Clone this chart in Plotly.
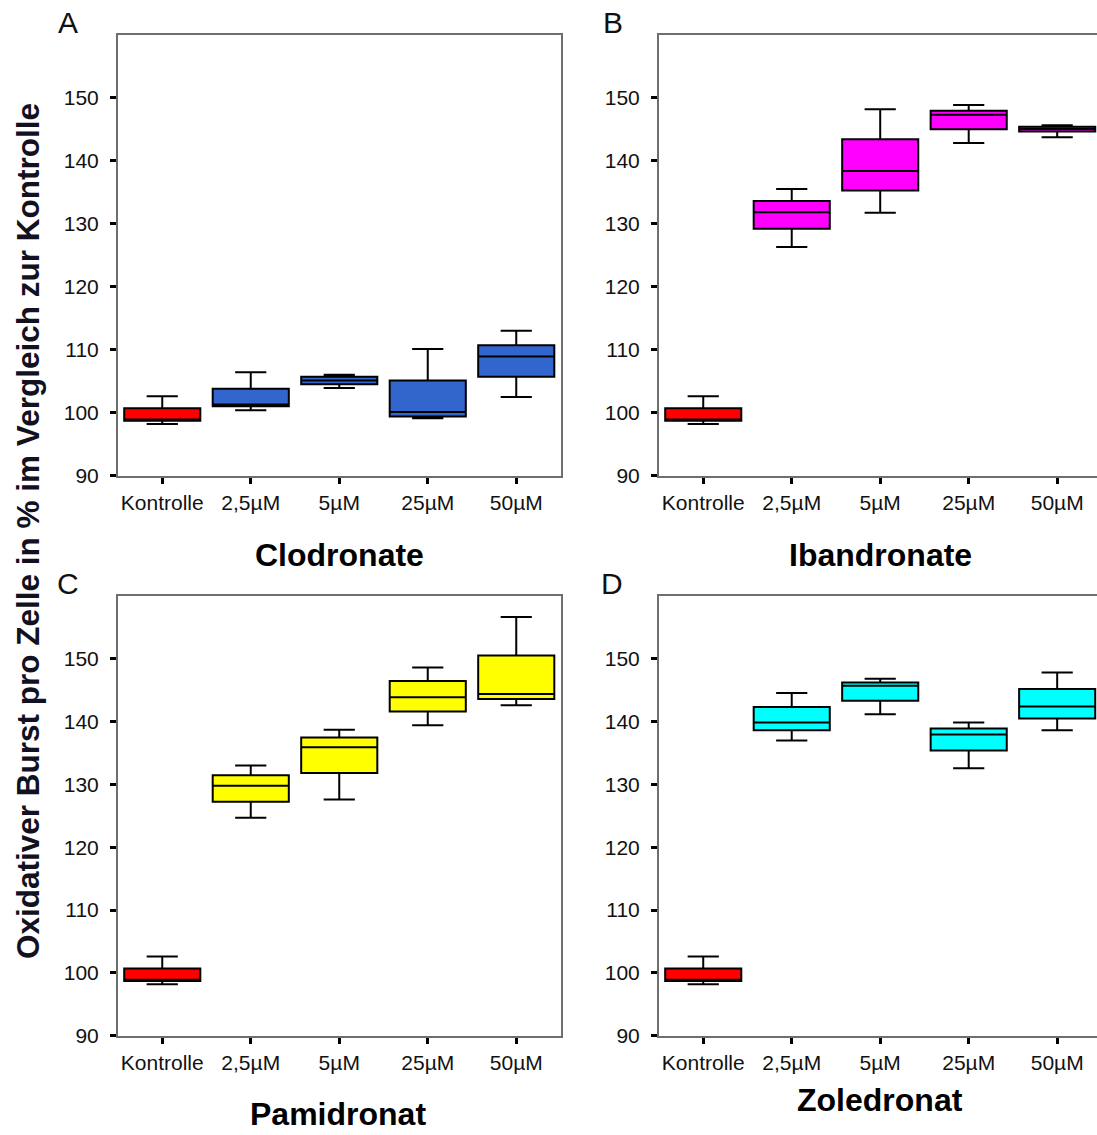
import plotly.graph_objects as go

categories = ["Kontrolle", "2,5µM", "5µM", "25µM", "50µM"]
panel_names = ["Clodronate", "Ibandronate", "Pamidronat", "Zoledronat"]
panel_letters = ["A", "B", "C", "D"]
y_ticks = [90, 100, 110, 120, 130, 140, 150]

# summary statistics per panel: Kontrolle, 2.5, 5, 25, 50 µM
clodronate_lower = [98.2, 100.4, 103.9, 99.1, 102.5]
clodronate_q1 = [98.7, 101.0, 104.5, 99.4, 105.7]
clodronate_median = [98.9, 101.3, 105.1, 100.1, 108.9]
clodronate_q3 = [100.7, 103.8, 105.7, 105.1, 110.7]
clodronate_upper = [102.6, 106.4, 106.0, 110.1, 113.0]

ibandronate_lower = [98.2, 126.3, 131.7, 142.8, 143.7]
ibandronate_q1 = [98.7, 129.2, 135.25, 144.95, 144.6]
ibandronate_median = [98.9, 131.8, 138.35, 147.25, 145.0]
ibandronate_q3 = [100.7, 133.6, 143.4, 147.9, 145.35]
ibandronate_upper = [102.6, 135.5, 148.15, 148.8, 145.6]

pamidronat_lower = [98.2, 124.7, 127.6, 139.4, 142.6]
pamidronat_q1 = [98.7, 127.25, 131.8, 141.6, 143.6]
pamidronat_median = [98.9, 129.8, 135.9, 143.85, 144.4]
pamidronat_q3 = [100.7, 131.45, 137.45, 146.45, 150.5]
pamidronat_upper = [102.6, 133.0, 138.7, 148.6, 156.65]

zoledronat_lower = [98.2, 137.0, 141.15, 132.55, 138.6]
zoledronat_q1 = [98.7, 138.6, 143.3, 135.4, 140.5]
zoledronat_median = [98.9, 139.85, 145.7, 137.95, 142.4]
zoledronat_q3 = [100.7, 142.3, 146.2, 138.9, 145.2]
zoledronat_upper = [102.6, 144.55, 146.8, 139.85, 147.8]

control_color = "#FF0000"
panel_colors = ["#3366CC", "#FF00FF", "#FFFF00", "#00FFFF"]

panels = [
    (clodronate_lower, clodronate_q1, clodronate_median, clodronate_q3, clodronate_upper),
    (ibandronate_lower, ibandronate_q1, ibandronate_median, ibandronate_q3, ibandronate_upper),
    (pamidronat_lower, pamidronat_q1, pamidronat_median, pamidronat_q3, pamidronat_upper),
    (zoledronat_lower, zoledronat_q1, zoledronat_median, zoledronat_q3, zoledronat_upper),
]

W, H = 1097, 1135
FONT = "Liberation Sans, Arial, sans-serif"

# plot areas in pixels (left, right, top, bottom)
areas = [
    (118, 560.5, 34.5, 475.7),
    (659, 1097, 34.5, 475.7),
    (118, 560.5, 595.9, 1035.7),
    (659, 1097, 595.9, 1035.7),
]
x_ranges = [[-0.5, 4.5], [-0.5, 4.45], [-0.5, 4.5], [-0.5, 4.45]]
title_pos = [(339, 555), (880, 555), (338, 1114), (880, 1100)]
letter_pos = [(68, 23), (613, 23), (68, 583), (612, 583)]

fig = go.Figure()
for p, (lo, q1, med, q3, up) in enumerate(panels):
    ax = "" if p == 0 else str(p + 1)
    for i, cat in enumerate(categories):
        col = control_color if i == 0 else panel_colors[p]
        fig.add_trace(go.Box(
            x=[cat], lowerfence=[lo[i]], q1=[q1[i]], median=[med[i]],
            q3=[q3[i]], upperfence=[up[i]],
            xaxis="x" + ax, yaxis="y" + ax,
            fillcolor=col, line=dict(color="black", width=2),
            width=0.86, whiskerwidth=0.41, boxpoints=False,
            showlegend=False, hoverinfo="skip",
        ))

layout = dict(
    width=W, height=H, autosize=False, margin=dict(l=0, r=0, t=0, b=0, pad=0),
    paper_bgcolor="white", plot_bgcolor="white",
    boxmode="overlay", showlegend=False,
    font=dict(family=FONT, color="black"),
)
annotations = []
for p in range(4):
    l, r, t, b = areas[p]
    ax = "" if p == 0 else str(p + 1)
    layout["xaxis" + ax] = dict(
        domain=[l / W, r / W], anchor="y" + ax,
        type="category", categoryorder="array", categoryarray=categories,
        range=x_ranges[p],
        showline=True, linecolor="#6e6e6e", linewidth=2, mirror=True,
        ticks="outside", ticklen=6, tickwidth=3, tickcolor="black",
        tickfont=dict(size=21, family=FONT, color="#111111"),
        ticklabelstandoff=1, automargin=False,
        showgrid=False, zeroline=False, fixedrange=True,
    )
    layout["yaxis" + ax] = dict(
        domain=[1 - b / H, 1 - t / H], anchor="x" + ax,
        range=[90, 160], tickvals=y_ticks,
        showline=True, linecolor="#6e6e6e", linewidth=2,
        mirror=(p in (0, 2)),
        ticks="outside", ticklen=6, tickwidth=3, tickcolor="black",
        tickfont=dict(size=21, family=FONT, color="#111111"),
        ticklabelstandoff=7, automargin=False,
        showgrid=False, zeroline=False, fixedrange=True,
    )
    tx, ty = title_pos[p]
    annotations.append(dict(
        text="<b>" + panel_names[p] + "</b>", x=tx / W, y=1 - ty / H,
        xref="paper", yref="paper", xanchor="center", yanchor="middle",
        showarrow=False, font=dict(size=32, family=FONT, color="black"),
    ))
    lx, ly = letter_pos[p]
    annotations.append(dict(
        text=panel_letters[p], x=lx / W, y=1 - ly / H,
        xref="paper", yref="paper", xanchor="center", yanchor="middle",
        showarrow=False, font=dict(size=30, family=FONT, color="#111111"),
    ))
annotations.append(dict(
    text="<b>Oxidativer Burst pro Zelle in % im Vergleich zur Kontrolle</b>",
    x=28 / W, y=1 - 531 / H, xref="paper", yref="paper",
    xanchor="center", yanchor="middle", textangle=-90, showarrow=False,
    font=dict(size=31.5, family=FONT, color="#111122"),
))
layout["annotations"] = annotations
fig.update_layout(**layout)
fig.write_html(
    "out.html",
    config={"responsive": False, "displayModeBar": False},
    post_script="document.body.style.margin='0';document.body.style.overflow='hidden';",
)
